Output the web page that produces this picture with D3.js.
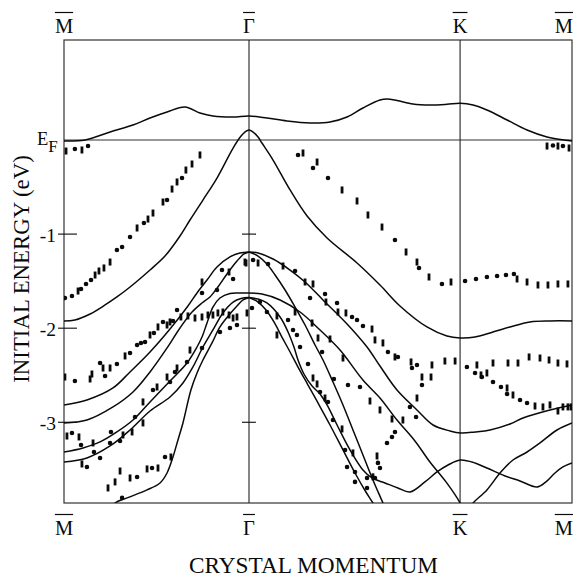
<!DOCTYPE html>
<html>
<head>
<meta charset="utf-8">
<script src="https://cdn.jsdelivr.net/npm/d3@7"></script>
<style>
  body { margin: 0; background: #fff; }
  svg { display: block; }
  text { font-family: "Liberation Serif", "DejaVu Serif", serif; fill: #0a0a0a; }
</style>
</head>
<body>
<svg id="chart" width="574" height="580"></svg>
<script>
// Symmetry points along the path M - Γ - K - M (k in units of |ΓM|)
const symLabels = ["M", "Γ", "K", "M"];
const symK = [0, 1, 2.141, 2.746];
const energyTicks = [-1, -2, -3];

// Calculated bands, [k, E (eV)]
const bandAboveEF = [[0,-0.011],[0.114,0],[0.249,0.085],[0.373,0.159],[0.465,0.234],[0.557,0.298],[0.654,0.351],[0.735,0.287],[0.805,0.255],[0.914,0.244],[1.0,0.255],[1.097,0.234],[1.205,0.202],[1.330,0.181],[1.438,0.191],[1.530,0.244],[1.616,0.340],[1.708,0.425],[1.746,0.436],[1.800,0.420],[1.886,0.383],[1.978,0.372],[2.070,0.379],[2.141,0.390],[2.211,0.372],[2.286,0.319],[2.395,0.213],[2.503,0.106],[2.611,0.032],[2.746,-0.011]];
const bandGammaTop = [[0,-1.923],[0.059,-1.913],[0.141,-1.849],[0.222,-1.753],[0.286,-1.668],[0.357,-1.562],[0.465,-1.381],[0.546,-1.233],[0.627,-1.020],[0.681,-0.850],[0.751,-0.638],[0.827,-0.404],[0.914,-0.085],[0.957,0.043],[0.978,0.085],[1.0,0.106],[1.022,0.085],[1.049,0.032],[1.070,-0.032],[1.130,-0.213],[1.222,-0.531],[1.314,-0.808],[1.422,-1.041],[1.584,-1.307],[1.708,-1.541],[1.816,-1.764],[1.962,-1.987],[2.070,-2.083],[2.141,-2.104],[2.222,-2.094],[2.303,-2.051],[2.411,-1.987],[2.519,-1.934],[2.627,-1.923],[2.746,-1.923]];
// M - Γ branches
const bandMG1 = [[0,-2.816],[0.124,-2.763],[0.265,-2.635],[0.357,-2.465],[0.465,-2.253],[0.573,-2.009],[0.670,-1.764],[0.719,-1.626],[0.773,-1.488],[0.827,-1.350],[0.897,-1.243],[0.951,-1.201],[1.0,-1.190]];
const bandMG2 = [[0,-3.007],[0.124,-2.976],[0.265,-2.837],[0.373,-2.678],[0.465,-2.465],[0.557,-2.210],[0.627,-1.998],[0.692,-1.828],[0.746,-1.732],[0.789,-1.668],[0.832,-1.562],[0.881,-1.424],[0.935,-1.286],[0.973,-1.211],[1.0,-1.190]];
const bandMG3 = [[0,-3.316],[0.103,-3.273],[0.195,-3.209],[0.286,-3.103],[0.373,-2.976],[0.465,-2.784],[0.573,-2.561],[0.665,-2.370],[0.719,-2.200],[0.746,-2.094],[0.773,-1.945],[0.805,-1.775],[0.843,-1.679],[0.897,-1.631],[0.951,-1.626],[1.0,-1.626]];
const bandMG4 = [[0,-3.422],[0.124,-3.379],[0.249,-3.252],[0.357,-3.082],[0.465,-2.880],[0.573,-2.731],[0.643,-2.582],[0.697,-2.412],[0.751,-2.200],[0.805,-2.019],[0.859,-1.838],[0.914,-1.722],[0.957,-1.684],[1.0,-1.674]];
const bandMG5 = [[0.249,-3.95],[0.276,-3.858],[0.341,-3.804],[0.449,-3.719],[0.519,-3.645],[0.557,-3.539],[0.589,-3.369],[0.616,-3.188],[0.643,-3.007],[0.686,-2.657],[0.719,-2.476],[0.751,-2.338],[0.800,-2.157],[0.843,-1.987],[0.892,-1.860],[0.935,-1.764],[0.968,-1.700],[1.0,-1.674]];
// Γ - K - M branches
const bandGK1 = [[1.0,-1.190],[1.049,-1.201],[1.130,-1.265],[1.222,-1.382],[1.303,-1.509],[1.400,-1.700],[1.530,-1.955],[1.638,-2.200],[1.708,-2.402],[1.800,-2.657],[1.908,-2.869],[1.995,-3.029],[2.086,-3.092],[2.146,-3.114],[2.222,-3.103],[2.303,-3.082],[2.411,-3.018],[2.481,-2.955],[2.627,-2.869],[2.746,-2.816]];
const bandGK2 = [[1.0,-1.190],[1.049,-1.233],[1.097,-1.318],[1.141,-1.435],[1.195,-1.594],[1.249,-1.775],[1.303,-1.966],[1.357,-2.179],[1.400,-2.338],[1.454,-2.572],[1.508,-2.816],[1.562,-3.082],[1.616,-3.347],[1.670,-3.613],[1.724,-3.858],[1.751,-3.985]];
const bandGK3 = [[1.0,-1.626],[1.070,-1.637],[1.168,-1.700],[1.276,-1.828],[1.384,-2.019],[1.492,-2.232],[1.616,-2.551],[1.708,-2.742],[1.800,-2.976],[1.897,-3.199],[1.978,-3.422],[2.065,-3.634],[2.141,-3.858],[2.160,-3.95]];
const bandGK4 = [[1.0,-1.674],[1.049,-1.722],[1.092,-1.807],[1.135,-1.934],[1.178,-2.094],[1.222,-2.253],[1.265,-2.413],[1.319,-2.604],[1.373,-2.795],[1.438,-3.029],[1.508,-3.294],[1.573,-3.539],[1.632,-3.741],[1.670,-3.858],[1.697,-3.953]];
const bandGK5 = [[1.0,-1.674],[1.049,-1.690],[1.097,-1.732],[1.168,-1.881],[1.211,-2.040],[1.243,-2.200],[1.265,-2.338],[1.297,-2.487],[1.341,-2.615],[1.384,-2.699],[1.422,-2.816],[1.476,-3.029],[1.546,-3.294],[1.616,-3.507],[1.665,-3.592],[1.735,-3.645],[1.805,-3.698],[1.870,-3.741],[1.951,-3.634],[2.016,-3.528],[2.076,-3.454],[2.141,-3.401],[2.205,-3.422],[2.286,-3.486],[2.384,-3.571],[2.465,-3.624],[2.557,-3.688],[2.605,-3.634],[2.654,-3.539],[2.697,-3.475],[2.746,-3.433]];
const bandKM = [[2.173,-3.953],[2.211,-3.858],[2.286,-3.719],[2.357,-3.539],[2.427,-3.401],[2.503,-3.316],[2.573,-3.220],[2.665,-3.082],[2.746,-3.007]];
const bands = [bandAboveEF, bandGammaTop, bandMG1, bandMG2, bandMG3, bandMG4, bandMG5,
               bandGK1, bandGK2, bandGK3, bandGK4, bandGK5, bandKM];

// Measured peaks: strong features (dots) and weak features (bars), [k, E (eV)]
const peaksStrong = [
  [0.059,-0.096],[0.130,-0.064],[2.643,-0.058],[2.697,-0.064],
  [0.005,-1.679],[0.043,-1.658],[0.092,-1.583],[0.119,-1.530],[0.146,-1.488],[0.286,-1.169],[0.314,-1.137],[0.357,-1.031],[0.432,-0.882],[0.557,-0.638],[0.638,-0.404],
  [1.265,-0.159],[1.346,-0.298],[1.427,-0.404],[1.789,-1.063],[1.919,-1.360],[2.043,-1.530],[2.168,-1.498],[2.227,-1.477],[2.286,-1.456],[2.341,-1.445],[2.389,-1.435],[2.432,-1.424],
  [0.059,-2.561],[0.195,-2.370],[0.222,-2.508],[0.286,-2.380],[0.357,-2.264],[0.395,-2.179],[0.416,-2.157],[0.438,-2.147],[0.486,-2.051],[0.535,-1.934],[0.589,-1.923],[0.611,-1.807],[1.016,-1.785],
  [0.746,-1.626],[0.827,-1.594],[0.854,-1.382],[0.914,-1.477],
  [1.022,-1.275],[1.103,-1.318],[1.249,-1.392],[1.330,-1.679],[1.411,-1.637],[1.476,-1.732],[1.557,-1.881],[1.584,-1.913],[1.616,-1.977],[1.751,-2.253],[1.805,-2.306],[1.881,-2.423],[1.908,-2.391],[2.178,-2.412],
  [2.222,-2.476],[2.259,-2.519],[2.319,-2.572],[2.362,-2.625],[2.395,-2.699],[2.465,-2.763],[2.503,-2.795],
  [1.708,-3.486],[1.697,-3.432],[1.746,-3.220],[1.773,-3.156],[1.789,-3.103],[1.870,-2.837],[1.903,-2.944],[1.935,-2.604],
  [1.459,-2.540],[1.535,-2.604],[1.600,-2.625],
  [1.059,-1.722],[1.097,-1.828],[1.211,-1.913],[1.238,-2.019],[1.259,-2.072],[1.276,-2.200],[1.319,-2.380],[1.384,-2.678],[1.427,-2.784],[1.454,-2.976],[1.519,-3.294],[1.530,-3.475],[1.573,-3.528],[1.573,-3.634],[1.638,-3.592],[1.638,-3.698],[1.395,-2.253],[1.681,-3.592],
  [0.897,-1.998],[0.935,-1.966],[0.843,-2.040],[0.746,-2.210],[0.665,-2.359],[0.600,-2.466],[0.573,-2.572],[0.481,-2.657],[0.384,-2.944],
  [0.043,-3.114],[0.092,-3.241],[0.162,-3.316],[0.195,-3.379],[0.124,-3.475],[0.254,-3.103],[0.249,-3.220],[0.303,-3.199],
  [0.395,-3.581],[0.476,-3.486],[0.546,-3.369],[0.314,-3.804]
];
const peaksWeak = [
  [0.011,-0.117],[0.097,-0.106],[2.611,-0.064],[2.670,-0.064],[2.730,-0.085],
  [0.076,-1.605],[0.168,-1.435],[0.189,-1.392],[0.216,-1.360],[0.249,-1.297],[0.395,-0.935],[0.454,-0.840],[0.481,-0.776],[0.535,-0.659],[0.584,-0.521],[0.611,-0.446],[0.659,-0.319],[0.692,-0.255],[0.735,-0.159],
  [1.292,-0.138],[1.368,-0.234],[1.503,-0.531],[1.584,-0.648],[1.643,-0.797],[1.719,-0.925],[1.849,-1.190],[1.908,-1.297],[1.973,-1.456],[2.092,-1.509],[2.449,-1.477],[2.503,-1.509],[2.562,-1.541],[2.616,-1.541],[2.670,-1.530],[2.724,-1.530],
  [0.005,-2.519],[0.141,-2.540],[0.151,-2.487],[0.211,-2.423],[0.249,-2.423],[0.330,-2.295],[0.465,-2.072],[0.508,-1.987],[0.557,-1.966],[0.573,-1.934],[0.632,-1.881],[0.670,-1.870],[0.708,-1.892],[0.746,-1.881],[0.778,-1.860],[0.805,-1.860],[0.832,-1.838],[0.859,-1.828],[0.892,-1.860],[0.914,-1.892],[0.935,-1.881],[0.989,-1.838],
  [0.746,-1.509],[0.892,-1.403],[0.978,-1.297],
  [0.984,-1.307],[1.049,-1.307],[1.184,-1.339],[1.303,-1.509],[1.346,-1.530],[1.416,-1.722],[1.481,-1.828],[1.524,-1.838],[1.665,-2.009],[1.681,-2.125],[1.724,-2.157],[1.789,-2.306],[1.876,-2.359],[1.989,-2.391],[2.059,-2.349],[2.114,-2.349],[2.232,-2.391],[2.319,-2.370],[2.400,-2.370],[2.454,-2.370],[2.514,-2.306],[2.573,-2.317],[2.622,-2.338],[2.670,-2.370],[2.719,-2.380],
  [2.254,-2.497],[2.286,-2.476],[2.395,-2.636],[2.427,-2.710],[2.546,-2.827],[2.589,-2.837],[2.627,-2.816],[2.670,-2.880],[2.697,-2.837],[2.724,-2.837],[2.741,-2.837],
  [1.692,-3.358],[1.832,-2.976],[1.908,-2.742],[1.935,-2.519],[1.984,-2.519],
  [1.654,-2.774],[1.708,-2.869],[1.773,-2.965],[1.249,-1.828],[1.341,-1.945],[1.373,-2.104],[1.438,-2.115],[1.508,-2.317],
  [1.151,-1.870],[1.151,-2.072],[1.346,-2.529],[1.368,-2.593],[1.411,-2.742],[1.503,-3.071],[1.562,-3.326],[1.670,-3.580],
  [0.681,-2.232],[0.611,-2.423],[0.557,-2.519],[0.503,-2.625],[0.427,-2.784],[0.427,-3.007],[0.368,-3.103],
  [0.016,-3.146],[0.081,-3.156],[0.157,-3.220],[0.097,-3.443],[0.319,-3.135],
  [0.238,-3.698],[0.276,-3.634],[0.303,-3.518],[0.357,-3.592],[0.449,-3.496],[0.508,-3.486],[0.578,-3.369]
];

const svg = d3.select("#chart");
const plotLeft = 64, plotRight = 572, plotTop = 40, plotBottom = 503;
const x = d3.scaleLinear().domain([0, 2.746]).range([plotLeft, plotRight]);
const y = d3.scaleLinear().domain([-3.858, 1.063]).range([plotBottom, plotTop]);
const ink = "#0a0a0a";

svg.append("defs").append("clipPath").attr("id", "plot")
  .append("rect").attr("x", plotLeft).attr("y", plotTop)
  .attr("width", plotRight - plotLeft).attr("height", plotBottom - plotTop);

// frame
svg.append("rect").attr("x", plotLeft).attr("y", plotTop)
  .attr("width", plotRight - plotLeft).attr("height", plotBottom - plotTop)
  .attr("fill", "none").attr("stroke", "#333").attr("stroke-width", 1.2);

// Fermi level
svg.append("line").attr("x1", plotLeft).attr("x2", plotRight)
  .attr("y1", y(0)).attr("y2", y(0)).attr("stroke", "#333").attr("stroke-width", 1.1);

// vertical lines at Γ and K
svg.selectAll("line.sym").data(symK.slice(1, 3)).join("line").attr("class", "sym")
  .attr("x1", d => x(d)).attr("x2", d => x(d))
  .attr("y1", plotTop).attr("y2", plotBottom).attr("stroke", "#222").attr("stroke-width", 1.1);

// energy ticks on the left axis and on the Γ line
const yAxis = d3.axisLeft(y).tickValues(energyTicks).tickSize(0).tickFormat(d => "-" + Math.abs(d));
const yg = svg.append("g").attr("transform", `translate(${plotLeft - 5},0)`).call(yAxis);
yg.select(".domain").remove();
yg.selectAll("text").attr("font-size", 19.5).attr("font-family", "Liberation Serif").attr("fill", ink).attr("dy", "0.36em");
svg.selectAll("line.ytick").data(energyTicks).join("line").attr("class", "ytick")
  .attr("x1", plotLeft - 6).attr("x2", plotLeft + 13)
  .attr("y1", d => y(d)).attr("y2", d => y(d)).attr("stroke", ink).attr("stroke-width", 1.1);
svg.selectAll("line.gtick").data(energyTicks).join("line").attr("class", "gtick")
  .attr("x1", x(1) - 7).attr("x2", x(1) + 7)
  .attr("y1", d => y(d)).attr("y2", d => y(d)).attr("stroke", ink).attr("stroke-width", 1.1);

// bands
const plot = svg.append("g").attr("clip-path", "url(#plot)");
const line = d3.line().x(d => x(d[0])).y(d => y(d[1])).curve(d3.curveCatmullRom.alpha(0.5));
plot.selectAll("path.band").data(bands).join("path").attr("class", "band")
  .attr("d", line).attr("fill", "none").attr("stroke", ink).attr("stroke-width", 1.5);

// measured peaks
plot.selectAll("circle.strong").data(peaksStrong).join("circle").attr("class", "strong")
  .attr("cx", d => x(d[0])).attr("cy", d => y(d[1])).attr("r", 2.3).attr("fill", ink);
plot.selectAll("rect.weak").data(peaksWeak).join("rect").attr("class", "weak")
  .attr("x", d => x(d[0]) - 1.4).attr("y", d => y(d[1]) - 3.5)
  .attr("width", 2.8).attr("height", 7).attr("fill", ink);

// symmetry point labels with overbars, above and below the frame
function symLabel(baseline) {
  symK.forEach((k, i) => {
    const t = svg.append("text").attr("font-size", 20.5).attr("text-anchor", "middle")
      .attr("y", baseline).text(symLabels[i]);
    const w = t.node().getComputedTextLength();
    const cx = Math.min(x(k), 573 - w / 2);
    t.attr("x", cx);
    svg.append("line").attr("x1", cx - w / 2).attr("x2", cx + w / 2)
      .attr("y1", baseline - 20.5).attr("y2", baseline - 20.5)
      .attr("stroke", ink).attr("stroke-width", 1.2);
  });
}
symLabel(33);
symLabel(535);

// E_F label
const ef = svg.append("text").attr("x", 37).attr("y", 145).attr("font-size", 18.5).text("E");
ef.append("tspan").attr("font-size", 17).attr("dy", 7).text("F");

// axis titles
svg.append("text").attr("x", 313.5).attr("y", 573).attr("text-anchor", "middle")
  .attr("font-size", 23.3).text("CRYSTAL MOMENTUM");
svg.append("text").attr("transform", "translate(28.5,269) rotate(-90)")
  .attr("text-anchor", "middle").attr("font-size", 22.8).text("INITIAL ENERGY (eV)");
</script>
</body>
</html>
